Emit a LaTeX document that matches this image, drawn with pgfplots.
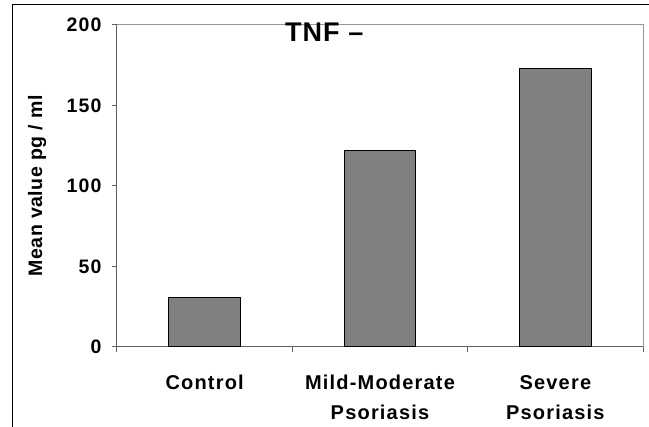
\documentclass[border=0pt]{standalone}
\usepackage{pgfplots}
\pgfplotsset{compat=1.18}
\usepackage{fontspec}
\setmainfont{Liberation Sans}

\definecolor{barfill}{RGB}{128,128,128}
\definecolor{axisgray}{RGB}{96,96,96}
\definecolor{framegray}{RGB}{150,150,150}

\begin{document}
\begin{tikzpicture}[x=1pt,y=1pt]
\useasboundingbox (0,0) rectangle (649,427);
% outer frame (left and top only)
\draw[black, line width=1pt] (12,0) -- (12,422) -- (649,422);

\begin{axis}[
    at={(117pt,80pt)}, anchor=south west,
    scale only axis,
    width=526pt, height=322pt,
    xmin=0, xmax=3,
    ymin=0, ymax=200,
    axis x line*=bottom,
    axis y line*=left,
    axis line style={axisgray, line width=1pt},
    ytick={0,50,100,150,200},
    xtick={0.5,1.5,2.5},
    xticklabels={Control\\\mbox{}, Mild-Moderate\\Psoriasis, Severe\\Psoriasis},
    minor xtick={0,1,2,3},
    major x tick style={draw=none},
    minor tick length=5pt,
    major tick length=5pt,
    tick align=outside,
    tick style={axisgray, line width=1pt},
    /pgf/number format/assume math mode=true,
    yticklabel style={font=\bfseries\fontsize{19.5}{22}\selectfont\addfontfeature{LetterSpace=6}, xshift=-7pt},
    xticklabel style={font=\bfseries\fontsize{20}{30}\selectfont\addfontfeature{LetterSpace=6}, align=center, anchor=base, yshift=-68pt},
    ylabel={Mean value pg / ml},
    ylabel style={font=\bfseries\fontsize{19.5}{22}\selectfont\addfontfeature{LetterSpace=3}, at={(axis description cs:-0.152,0.5)}, anchor=center},
    title={TNF –},
    title style={font=\bfseries\fontsize{27}{30}\selectfont\addfontfeature{LetterSpace=4}, at={(axis description cs:0.394,0.929)}, anchor=base},
    clip=false,
]
\addplot[ybar, bar width=0.41, fill=barfill, draw=black, line width=1pt] coordinates {
    (0.5,31)
    (1.5,122)
    (2.5,173)
};
\draw[framegray, line width=1pt] (rel axis cs:0,1) -- (rel axis cs:1,1) -- (rel axis cs:1,0);
\end{axis}
\end{tikzpicture}
\end{document}
